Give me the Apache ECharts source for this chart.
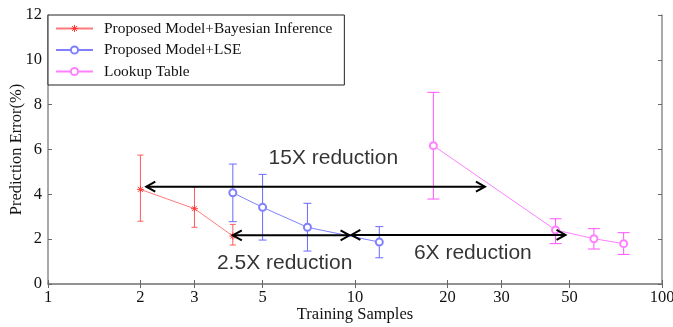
<!DOCTYPE html>
<html>
<head>
<meta charset="utf-8">
<script src="https://cdn.jsdelivr.net/npm/echarts@6/dist/echarts.min.js"></script>
<style>
  html, body { margin: 0; padding: 0; background: #fff; }
  #chart { width: 673px; height: 327px; }
</style>
</head>
<body>
<div id="chart"></div>
<script>
// Training-sample counts and prediction error (%) with error-bar bounds
const bayesX    = [2, 3, 4];
const bayesErr  = [4.22, 3.36, 2.14];
const bayesLow  = [2.80, 2.53, 1.74];
const bayesHigh = [5.75, 4.33, 2.66];

const lseX    = [4, 5, 7, 12];
const lseErr  = [4.07, 3.42, 2.53, 1.87];
const lseLow  = [2.78, 1.96, 1.47, 1.17];
const lseHigh = [5.35, 4.89, 3.60, 2.56];

const lutX    = [18, 45, 60, 75];
const lutErr  = [6.17, 2.41, 2.02, 1.80];
const lutLow  = [3.79, 1.80, 1.56, 1.32];
const lutHigh = [8.55, 2.91, 2.47, 2.29];

const seriesNames = ['Proposed Model+Bayesian Inference', 'Proposed Model+LSE', 'Lookup Table'];

const xTicks = [1, 2, 3, 5, 10, 20, 30, 50, 100];
const yTicks = [0, 2, 4, 6, 8, 10, 12];

// Double-headed arrows: [from, to, level]
const arrows = [
  [2.09, 26.5, 4.34],
  [4.0, 9.6, 2.17],
  [9.73, 48.5, 2.19]
];
const notes = ['15X reduction', '2.5X reduction', '6X reduction'];
const noteX = [8.5, 5.9, 24.2];
const noteY = [5.6, 0.95, 1.38];

const redLine = '#ff7a7a', redBar = '#ff5a5a', redMark = '#ff3b3b';
const blueLine = '#8080ff', blueBar = '#6a6aff';
const magLine = '#ff80ff', magBar = '#ff55ff';
const serif = '"Liberation Serif", "Times New Roman", serif';

const asterisk = 'path://M5,0L5,10M0,5L10,5M1.5,1.5L8.5,8.5M1.5,8.5L8.5,1.5';

function zip(xs, ys) { return xs.map((x, i) => [x, ys[i]]); }
function bars(xs, lo, hi) { return xs.map((x, i) => [x, lo[i], hi[i]]); }

function errorBarSeries(xs, lo, hi, color, cap) {
  return {
    type: 'custom',
    silent: true,
    z: 3,
    data: bars(xs, lo, hi),
    encode: { x: 0, y: [1, 2] },
    renderItem: function (params, api) {
      const x = api.value(0);
      const a = api.coord([x, api.value(1)]);
      const b = api.coord([x, api.value(2)]);
      const st = { stroke: color, lineWidth: 1 };
      return {
        type: 'group',
        children: [
          { type: 'line', shape: { x1: a[0], y1: a[1], x2: b[0], y2: b[1] }, style: st },
          { type: 'line', shape: { x1: a[0] - cap, y1: a[1], x2: a[0] + cap, y2: a[1] }, style: st },
          { type: 'line', shape: { x1: b[0] - cap, y1: b[1], x2: b[0] + cap, y2: b[1] }, style: st }
        ]
      };
    }
  };
}

const chart = echarts.init(document.getElementById('chart'), null, { renderer: 'canvas' });

const axisLineStyle = { color: '#8c8c8c', width: 1.5 };

chart.setOption({
  animation: false,
  backgroundColor: '#fff',
  grid: { left: 48, top: 15, right: 11, bottom: 43, containLabel: false, outerBoundsMode: 'none' },
  xAxis: [{
    type: 'log',
    logBase: 10,
    min: 1,
    max: 100,
    name: 'Training Samples',
    nameLocation: 'middle',
    nameGap: 22,
    nameMoveOverlap: false,
    nameTextStyle: { fontFamily: serif, fontSize: 16.5, color: '#111' },
    axisLine: { show: true, lineStyle: axisLineStyle },
    axisTick: { show: true, inside: true, length: 4, customValues: xTicks, lineStyle: { color: '#666' } },
    axisLabel: { customValues: xTicks, fontFamily: serif, fontSize: 16.5, color: '#111', margin: 5 },
    splitLine: { show: false },
    minorTick: { show: false }
  }, {
    type: 'log',
    logBase: 10,
    min: 1,
    max: 100,
    position: 'top',
    axisLine: { show: true, lineStyle: axisLineStyle },
    axisTick: { show: true, inside: true, length: 4, customValues: xTicks, lineStyle: { color: '#666' } },
    axisLabel: { show: false },
    splitLine: { show: false }
  }],
  yAxis: [{
    type: 'value',
    min: 0,
    max: 12,
    interval: 2,
    name: 'Prediction Error(%)',
    nameLocation: 'middle',
    nameGap: 23,
    nameMoveOverlap: false,
    nameTextStyle: { fontFamily: serif, fontSize: 16.5, color: '#111' },
    axisLine: { show: true, lineStyle: axisLineStyle },
    axisTick: { show: true, inside: true, length: 4, customValues: yTicks, lineStyle: { color: '#666' } },
    axisLabel: { customValues: yTicks, fontFamily: serif, fontSize: 16.5, color: '#111', margin: 6 },
    splitLine: { show: false }
  }, {
    type: 'value',
    min: 0,
    max: 12,
    interval: 2,
    position: 'right',
    axisLine: { show: true, lineStyle: axisLineStyle },
    axisTick: { show: true, inside: true, length: 4, lineStyle: { color: '#666' } },
    axisLabel: { show: false },
    splitLine: { show: false }
  }],
  legend: {
    orient: 'vertical',
    left: 48,
    top: 15,
    padding: [6, 12, 6, 7],
    itemGap: 6.5,
    itemWidth: 37,
    itemHeight: 9,
    backgroundColor: '#fff',
    borderColor: '#222',
    borderWidth: 1,
    borderRadius: 0,
    textStyle: { fontFamily: serif, fontSize: 15.4, color: '#111', padding: [0, 0, 0, 6] },
    data: [
      { name: seriesNames[0], itemStyle: { color: 'rgba(0,0,0,0)', borderColor: redMark, borderWidth: 1 } },
      { name: seriesNames[1] },
      { name: seriesNames[2] }
    ]
  },
  series: [
    errorBarSeries(bayesX, bayesLow, bayesHigh, redBar, 3),
    errorBarSeries(lseX, lseLow, lseHigh, blueBar, 4),
    errorBarSeries(lutX, lutLow, lutHigh, magBar, 6),
    {
      name: seriesNames[0],
      type: 'line',
      data: zip(bayesX, bayesErr),
      symbol: asterisk,
      symbolSize: 7,
      lineStyle: { color: redLine, width: 1 },
      itemStyle: { color: 'rgba(0,0,0,0)', borderColor: redMark, borderWidth: 1 },
      z: 4
    },
    {
      name: seriesNames[1],
      type: 'line',
      data: zip(lseX, lseErr),
      symbol: 'emptyCircle',
      symbolSize: 7,
      lineStyle: { color: blueLine, width: 1 },
      itemStyle: { color: blueLine, borderColor: blueLine, borderWidth: 1 },
      z: 4
    },
    {
      name: seriesNames[2],
      type: 'line',
      data: zip(lutX, lutErr),
      symbol: 'emptyCircle',
      symbolSize: 7,
      lineStyle: { color: magLine, width: 1 },
      itemStyle: { color: magLine, borderColor: magLine, borderWidth: 1 },
      z: 4
    },
    {
      // double-headed reduction arrows
      type: 'custom',
      silent: true,
      z: 6,
      data: arrows,
      encode: { x: [0, 1], y: 2 },
      renderItem: function (params, api) {
        const p1 = api.coord([api.value(0), api.value(2)]);
        const p2 = api.coord([api.value(1), api.value(2)]);
        const st = { stroke: '#000', lineWidth: 2, fill: null };
        const L = 9, W = 5;
        return {
          type: 'group',
          children: [
            { type: 'line', shape: { x1: p1[0], y1: p1[1], x2: p2[0], y2: p2[1] }, style: st },
            { type: 'polyline', shape: { points: [[p1[0] + L, p1[1] - W], [p1[0], p1[1]], [p1[0] + L, p1[1] + W]] }, style: st },
            { type: 'polyline', shape: { points: [[p2[0] - L, p2[1] - W], [p2[0], p2[1]], [p2[0] - L, p2[1] + W]] }, style: st }
          ]
        };
      }
    },
    {
      // annotation text
      type: 'scatter',
      silent: true,
      z: 7,
      symbolSize: 0,
      data: noteX.map((x, i) => ({ value: [x, noteY[i]], label: { formatter: notes[i] } })),
      label: {
        show: true,
        position: 'inside',
        fontFamily: '"Liberation Sans", Arial, sans-serif',
        fontSize: 21,
        color: '#000'
      }
    }
  ]
});
</script>
</body>
</html>
